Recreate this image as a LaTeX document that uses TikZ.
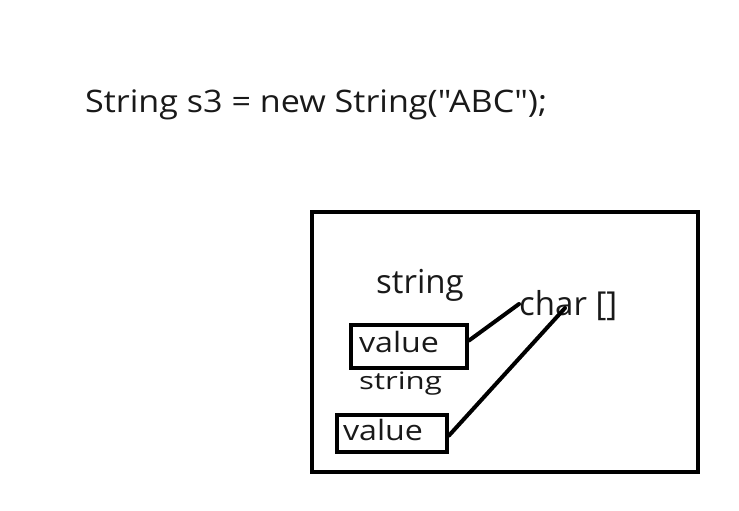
\documentclass[tikz,border=0pt]{standalone}
\usepackage{fontspec}
\setmainfont{Open Sans}[Ligatures=TeXOff]
\begin{document}
\begin{tikzpicture}[x=1pt,y=-1pt,
  txt/.style={anchor=base west,inner sep=0pt,text=black!90},
  frame/.style={draw,line width=4.5pt,minimum width=386pt,minimum height=260pt,inner sep=0pt},
  valbox/.style={draw,line width=4pt,align=left,inner ysep=0pt,text=black!90},
  link/.style={line width=4pt,line cap=round}]
\useasboundingbox (0,0) rectangle (739,511);
\node[txt,font=\fontsize{31}{31}\selectfont] (code) at (85,112) {\scalebox{1.1}[1]{String s3 = new String("ABC");}};
\node[frame] (outer) at (505,342) {};
\node[txt,font=\fontsize{33}{33}\selectfont] (str1) at (376,293) {string};
\node[valbox,minimum width=116pt,minimum height=43pt,inner xsep=8pt,text width=100pt,
  text height=17pt,text depth=6pt,font=\fontsize{28}{28}\selectfont] (box1) at (409,346.5) {\scalebox{1.15}[1]{value}};
\node[txt,font=\fontsize{24}{24}\selectfont] (str2) at (359,389) {\scalebox{1.3}[1]{string}};
\node[valbox,minimum width=110pt,minimum height=37pt,inner xsep=6pt,text width=98pt,
  text height=18pt,text depth=5pt,font=\fontsize{28}{28}\selectfont] (box2) at (392,433.5) {\scalebox{1.15}[1]{value}};
\node[txt,font=\fontsize{33}{33}\selectfont] (chr) at (519,315) {char []};
\coordinate (e1) at (519,304);
\coordinate (e2) at (565,308);
\draw[link] ([yshift=6pt]box1.east) -- (e1);
\draw[link] ([yshift=-2pt]box2.east) -- (e2);
\end{tikzpicture}
\end{document}
